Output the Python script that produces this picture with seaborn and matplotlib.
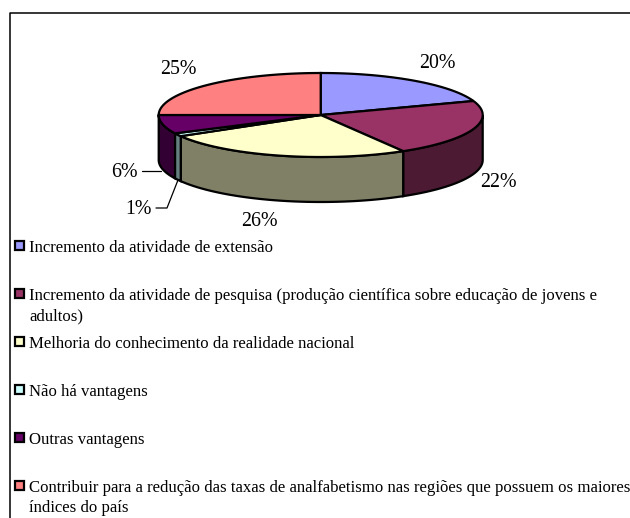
import numpy as np
import matplotlib
matplotlib.use("Agg")
import matplotlib.pyplot as plt
from matplotlib.patches import Polygon, Rectangle
import seaborn as sns

labels = [
    "Incremento da atividade de extensão",
    "Incremento da atividade de pesquisa (produção científica sobre educação de jovens e\nadultos)",
    "Melhoria do conhecimento da realidade nacional",
    "Não há vantagens",
    "Outras vantagens",
    "Contribuir para a redução das taxas de analfabetismo nas regiões que possuem os maiores\níndices do país",
]
# printed percentages
pct_labels = ["20%", "22%", "26%", "1%", "6%", "25%"]
# slice shares as drawn
shares = [19.6, 21.9, 25.1, 1.2, 7.2, 25.0]
top_colors = ["#9999FF", "#993366", "#FFFFCC", "#CCFFFF", "#660066", "#FF8080"]
side_colors = ["#4D4D80", "#4D1A33", "#808066", "#668080", "#330033", "#804040"]

sns.set_theme(style="white")
plt.rcParams["font.family"] = ["Liberation Serif", "DejaVu Serif"]

fig = plt.figure(figsize=(6.3, 5.18), dpi=100)
ax = fig.add_axes([0, 0, 1, 1])
ax.set_xlim(0, 630)
ax.set_ylim(518, 0)
ax.axis("off")

# chart frame, runs off the bottom and right of the image
ax.plot([10, 10, 630], [518, 13, 13], color="black", lw=1.1)

# pie geometry in pixels
cx, cy = 320.7, 115
rx, ry = 162, 42
depth = 45


def ellipse_pts(a0, a1):
    # angles in degrees clockwise from twelve o'clock
    t = np.radians(np.linspace(a0, a1, 100))
    return cx + rx * np.sin(t), cy - ry * np.cos(t)


edges = np.concatenate([[0], np.cumsum(shares)]) * 360 / sum(shares)

# sides first, only the front half (90 to 270 deg) shows
for i in range(len(shares)):
    a0, a1 = max(edges[i], 90), min(edges[i + 1], 270)
    if a1 <= a0:
        continue
    x, y = ellipse_pts(a0, a1)
    pts = np.r_[np.c_[x, y], np.c_[x, y + depth][::-1]]
    ax.add_patch(Polygon(pts, fc=side_colors[i], ec="black", lw=1.6))

# top faces
for i in range(len(shares)):
    x, y = ellipse_pts(edges[i], edges[i + 1])
    pts = np.r_[[[cx, cy]], np.c_[x, y]]
    ax.add_patch(Polygon(pts, fc=top_colors[i], ec="black", lw=1.6))

# percent labels
pct_x = [437, 498, 259, 138, 124, 178]
pct_y = [68.3, 186.7, 226, 214, 176.7, 74.3]
for i, txt in enumerate(pct_labels):
    ax.text(pct_x[i], pct_y[i], txt, fontsize=14.3, ha="center", va="baseline", color="black")

# leader lines
ax.plot([142, 161], [171, 171], color="black", lw=0.9)
ax.plot([156, 167, 178], [208, 208, 180], color="black", lw=0.9)

# legend, one slot per entry
for i, lab in enumerate(labels):
    y = 245 + 48 * i
    ax.add_patch(Rectangle((14.5, y - 4.5), 9.5, 9.5, fc=top_colors[i], ec="black", lw=1.6))
    for j, line in enumerate(lab.split("\n")):
        ax.text(29, y + 6.5 + 20.5 * j, line, fontsize=12.1, ha="left", va="baseline", color="black")

fig.savefig("out.png", dpi=100)
